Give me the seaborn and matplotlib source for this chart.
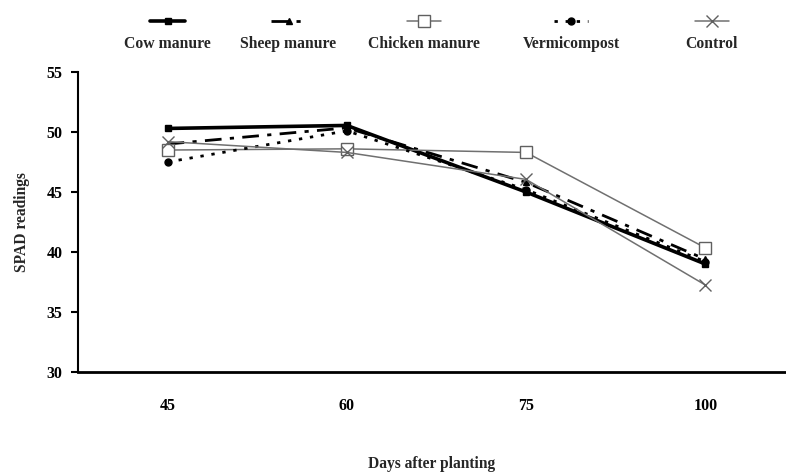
import pandas as pd
import matplotlib
matplotlib.use("Agg")
import matplotlib.pyplot as plt
import seaborn as sns
from matplotlib.offsetbox import VPacker

# data
days = ["45", "60", "75", "100"]
cow_manure = [50.3, 50.55, 45.0, 39.0]
sheep_manure = [49.0, 50.35, 45.8, 39.4]
chicken_manure = [48.5, 48.6, 48.3, 40.35]
vermicompost = [47.5, 50.1, 45.2, 39.2]
control = [49.2, 48.3, 46.05, 37.25]

series = {
    "Cow manure": cow_manure,
    "Sheep manure": sheep_manure,
    "Chicken manure": chicken_manure,
    "Vermicompost": vermicompost,
    "Control": control,
}

estilos = {
    "Cow manure": dict(color="black", lw=2.6, ls="-", marker="s", ms=5, mfc="black", mec="black"),
    "Sheep manure": dict(color="black", lw=2.0, ls=(0, (6, 3, 1.5, 3)), marker="^", ms=5, mfc="black", mec="black"),
    "Chicken manure": dict(color="#707070", lw=1.1, ls="-", marker="s", ms=9, mfc="white", mec="#606060"),
    "Vermicompost": dict(color="black", lw=2.0, ls=(0, (1.2, 2.8)), marker="o", ms=5, mfc="black", mec="black"),
    "Control": dict(color="#707070", lw=1.1, ls="-", marker="x", ms=9, mfc="none", mec="#606060"),
}

# centro horizontal de cada entrada de la leyenda (pixeles de la figura)
leyenda_x = [167.5, 288.5, 424, 571, 712]

sns.set_style("white")
plt.rcParams["font.family"] = ["Liberation Serif", "DejaVu Serif"]
plt.rcParams["font.weight"] = "bold"

fig = plt.figure(figsize=(7.86, 4.74), dpi=100)
ax = fig.add_axes([0.0992, 0.2152, 0.9008, 0.6328])

for nombre, valores in series.items():
    df = pd.DataFrame({"dia": days, "spad": valores})
    e = estilos[nombre]
    sns.lineplot(data=df, x="dia", y="spad", ax=ax, sort=False, label=nombre,
                 color=e["color"], linewidth=e["lw"], linestyle=e["ls"],
                 marker=e["marker"], markersize=e["ms"],
                 markerfacecolor=e["mfc"], markeredgecolor=e["mec"],
                 markeredgewidth=1.0)

ax.set_ylim(30, 55)
ax.set_yticks([30, 35, 40, 45, 50, 55])
ax.set_xlim(-0.5, 3.45)

ax.spines["top"].set_visible(False)
ax.spines["right"].set_visible(False)
ax.spines["left"].set_linewidth(1.5)
ax.spines["bottom"].set_linewidth(2.0)
ax.spines["left"].set_color("black")
ax.spines["bottom"].set_color("black")

ax.tick_params(axis="y", direction="out", length=5, width=1.5, left=True,
               labelsize=11.5, pad=6, colors="black")
ax.tick_params(axis="x", length=0, labelsize=11.5, pad=19, colors="black")
for t in ax.get_xticklabels() + ax.get_yticklabels():
    t.set_fontweight("bold")

ax.set_xlabel("Days after planting", fontsize=11.2, fontweight="bold", labelpad=30)
ax.set_ylabel("SPAD readings", fontsize=11.2, fontweight="bold", labelpad=12)

# leyenda: una entrada por caja, con la linea encima del texto
handles, labels = ax.get_legend_handles_labels()
ax.get_legend().remove()
for h, l, cx in zip(handles, labels, leyenda_x):
    leg = fig.legend(handles=[h], labels=[l], loc="center",
                     bbox_to_anchor=(cx / 786, 0.929), bbox_transform=fig.transFigure,
                     frameon=False, fontsize=11.3, handlelength=2.2,
                     handletextpad=0.1, borderpad=0.0)
    for t in leg.get_texts():
        t.set_fontweight("bold")
    for col in leg._legend_handle_box.get_children():
        for item in col.get_children():
            item.__class__ = VPacker
            item.align = "center"
            item.sep = 7

fig.savefig("out.png", dpi=100)
